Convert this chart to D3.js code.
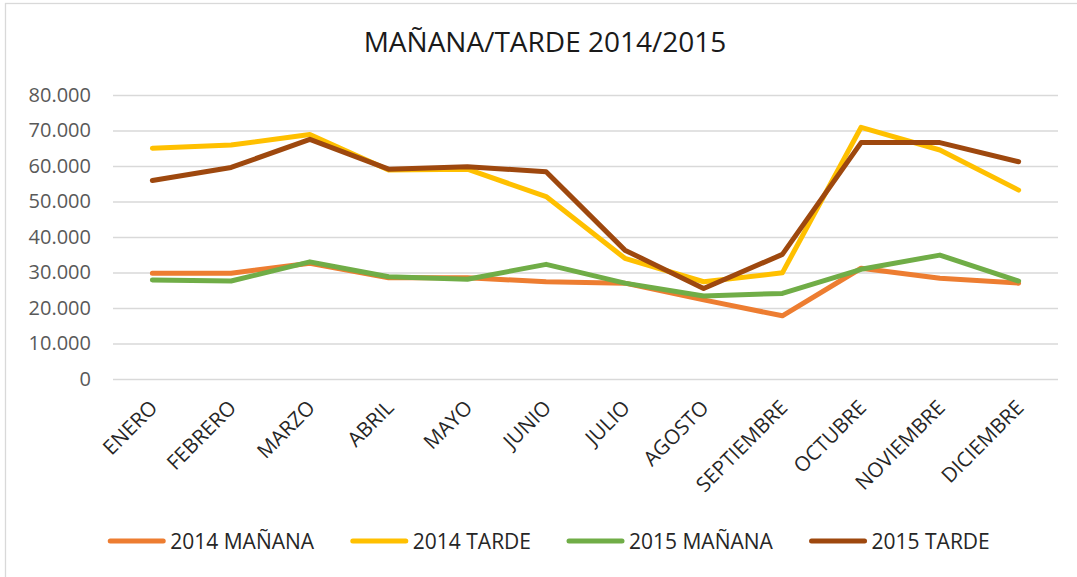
<!DOCTYPE html>
<html>
<head>
<meta charset="utf-8">
<script src="https://cdn.jsdelivr.net/npm/d3@7"></script>
<style>
  html, body { margin: 0; padding: 0; background: #fff; }
  svg { display: block; font-family: "Open Sans", sans-serif; }
</style>
</head>
<body>
<div id="chart"></div>
<script>
// datos
const meses = ["ENERO", "FEBRERO", "MARZO", "ABRIL", "MAYO", "JUNIO", "JULIO",
  "AGOSTO", "SEPTIEMBRE", "OCTUBRE", "NOVIEMBRE", "DICIEMBRE"];
const manana2014 = [29800, 29800, 32600, 28500, 28500, 27400, 27000, 22300, 17800, 31200, 28400, 27000];
const tarde2014 = [65000, 65900, 68900, 58900, 59100, 51400, 34000, 27400, 29900, 70900, 64500, 53200];
const manana2015 = [27900, 27600, 33000, 28800, 28100, 32300, 27000, 23400, 24100, 30900, 34900, 27600];
const tarde2015 = [55900, 59600, 67500, 59100, 59800, 58400, 36300, 25500, 35100, 66600, 66600, 61200];
const yTicks = [0, 10000, 20000, 30000, 40000, 50000, 60000, 70000, 80000];
const nombres = ["2014 MAÑANA", "2014 TARDE", "2015 MAÑANA", "2015 TARDE"];
const colores = ["#ED7D31", "#FFC000", "#70AD47", "#9E480E"];

const series = [manana2014, tarde2014, manana2015, tarde2015].map((valores, i) => ({
  nombre: nombres[i], color: colores[i], valores: valores
}));

const width = 1077, height = 577;
const margin = {top: 95, right: 19, bottom: 198, left: 113};

const svg = d3.select("#chart").append("svg")
  .attr("width", width)
  .attr("height", height);

// marco del grafico
svg.append("rect")
  .attr("x", 5.5).attr("y", 3.5)
  .attr("width", width + 20).attr("height", height + 20)
  .attr("fill", "none")
  .attr("stroke", "#d9d9d9")
  .attr("stroke-width", 1.3);

svg.append("text")
  .attr("x", 545)
  .attr("y", 52)
  .attr("text-anchor", "middle")
  .attr("font-size", 28)
  .attr("fill", "#1a1a1a")
  .text("MAÑANA/TARDE 2014/2015");

const x = d3.scalePoint()
  .domain(meses)
  .range([margin.left, width - margin.right])
  .padding(0.5);

const y = d3.scaleLinear()
  .domain([0, 80000])
  .range([height - margin.bottom, margin.top]);

const es = d3.formatLocale({decimal: ",", thousands: ".", grouping: [3], currency: ["", "€"]});
const fmt = es.format(",d");

// eje y con lineas de cuadricula
const yAxis = svg.append("g")
  .attr("transform", `translate(${margin.left},0)`)
  .call(d3.axisLeft(y).tickValues(yTicks).tickFormat(fmt)
    .tickSize(-(width - margin.left - margin.right)).tickPadding(22));
yAxis.select(".domain").remove();
yAxis.selectAll(".tick line")
  .attr("stroke", "#d9d9d9")
  .attr("stroke-width", 1.3);
yAxis.selectAll(".tick text")
  .attr("font-size", 20)
  .attr("font-family", "Open Sans, sans-serif")
  .attr("fill", "#595959");

// eje x con etiquetas giradas
const xAxis = svg.append("g")
  .attr("transform", `translate(0,${height - margin.bottom})`)
  .call(d3.axisBottom(x).tickSize(0));
xAxis.select(".domain").remove();
xAxis.selectAll(".tick text")
  .attr("font-size", 20.5)
  .attr("font-family", "Open Sans, sans-serif")
  .attr("fill", "#262626")
  .attr("text-anchor", "end")
  .attr("dy", null)
  .attr("y", 0)
  .attr("transform", "translate(6,30) rotate(-45)");

const linea = d3.line()
  .x((d, i) => x(meses[i]))
  .y(d => y(d));

svg.append("g").selectAll("path")
  .data(series)
  .join("path")
  .attr("d", d => linea(d.valores))
  .attr("fill", "none")
  .attr("stroke", d => d.color)
  .attr("stroke-width", 5)
  .attr("stroke-linejoin", "round")
  .attr("stroke-linecap", "round");

// leyenda
const leyenda = svg.append("g");
const items = leyenda.selectAll("g")
  .data(series)
  .join("g");
items.append("line")
  .attr("x1", 0).attr("x2", 53)
  .attr("y1", 0).attr("y2", 0)
  .attr("stroke", d => d.color)
  .attr("stroke-width", 5)
  .attr("stroke-linecap", "round");
items.append("text")
  .attr("x", 60)
  .attr("y", 7.5)
  .attr("font-size", 21)
  .attr("fill", "#262626")
  .text(d => d.nombre);

let pos = 0;
const offsets = [];
items.each(function () {
  offsets.push(pos);
  pos += this.getBBox().width + 38;
});
const total = pos - 38;
const inicio = 550 - total / 2;
items.attr("transform", (d, i) => `translate(${inicio + offsets[i]},541)`);
</script>
</body>
</html>
